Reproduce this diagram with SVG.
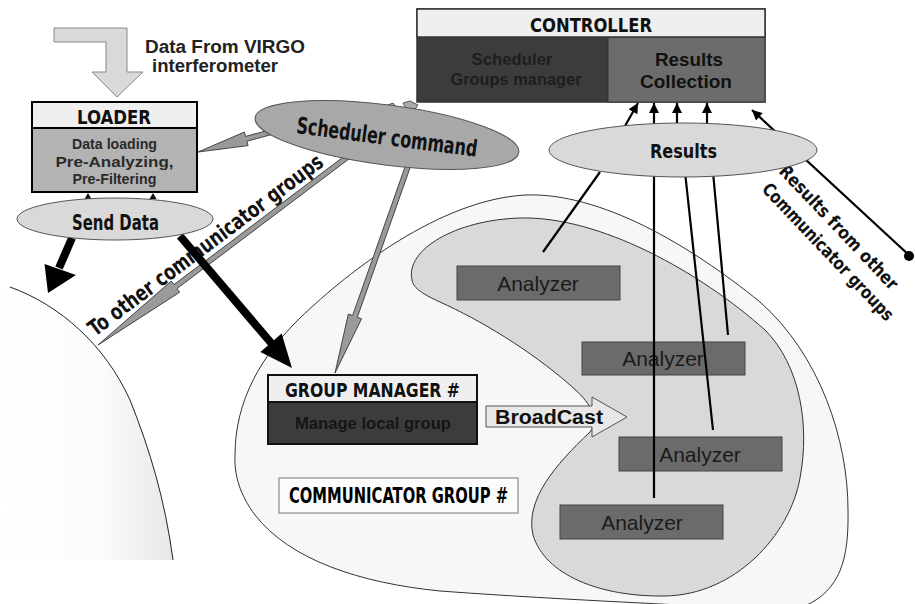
<svg xmlns="http://www.w3.org/2000/svg" width="915" height="604" viewBox="0 0 915 604">
<defs>
<style>
.b{font-family:"Liberation Sans",Arial,sans-serif;font-weight:bold}
.n{font-family:"Liberation Sans Narrow","DejaVu Sans Condensed","Liberation Sans",sans-serif;font-weight:bold}
.r{font-family:"Liberation Sans",Arial,sans-serif}
.az{fill:#6b6b6b;stroke:#444;stroke-width:1}
.azt{font-size:21px;fill:#1a1a1a;text-anchor:middle}
.ga{fill:#9a9a9a;stroke:#444;stroke-width:1}
.bl{stroke:#000;stroke-width:2.2;fill:none}
.el{fill:#d9d9d9;stroke:#555;stroke-width:1}
</style>
<marker id="ah" viewBox="0 0 10 10" refX="10" refY="5" markerWidth="11" markerHeight="10" markerUnits="userSpaceOnUse" orient="auto">
<path d="M0,0 L10,5 L0,10 z" fill="#000"/>
</marker>
<linearGradient id="lg" x1="0" y1="0" x2="1" y2="0">
<stop offset="0" stop-color="#fff"/>
<stop offset="0.6" stop-color="#fbfbfb"/>
<stop offset="1" stop-color="#e8e8e8"/>
</linearGradient>
</defs>
<rect width="915" height="604" fill="#fff"/>

<g id="other-group">
<path d="M0,284 L10,287 C60,305 105,345 130,400 C150,450 165,500 173,560 L0,560 Z" fill="url(#lg)" stroke="none"/>
<path d="M10,287 C60,305 105,345 130,400 C150,450 165,500 173,560" fill="none" stroke="#222" stroke-width="1"/>
</g>

<g id="communicator-group">
<path d="M235,455 C235,400 262,355 300,318 C350,270 440,200 525,195 C600,192 690,245 760,302 C820,355 848,440 848,510 C849,560 840,590 805,606 L700,606 C620,602 520,597 440,591 C360,583 290,560 255,515 C240,495 234,475 235,455 Z" fill="#f7f7f7" stroke="#333" stroke-width="1"/>
</g>

<g id="analyzer-group">
<path d="M412,280 C405,250 455,220 520,218 C600,216 700,272 765,330 C800,365 810,425 800,478 C790,535 735,595 665,596 C600,597 545,575 533,535 C525,500 555,465 590,432 C600,418 590,402 570,385 C530,350 480,320 440,302 C420,293 413,287 412,280 Z" fill="#d9d9d9" stroke="#333" stroke-width="1"/>
</g>

<g id="analyzer1"><rect class="az" x="457" y="266" width="163" height="34"/><text class="r azt" x="538" y="291">Analyzer</text></g>
<g id="analyzer2"><rect class="az" x="582" y="342" width="163" height="33"/><text class="r azt" x="663" y="366">Analyzer</text></g>
<g id="analyzer3"><rect class="az" x="619" y="437" width="163" height="34"/><text class="r azt" x="700" y="462">Analyzer</text></g>
<g id="analyzer4"><rect class="az" x="560" y="505" width="163" height="34"/><text class="r azt" x="642" y="530">Analyzer</text></g>

<g id="connectors">
<polygon points="54,28 127,28 127,72 143,72 117,97 92,72 106,72 106,42 54,42" fill="#d9d9d9" stroke="#888" stroke-width="1"/>
<polygon class="ga" points="274.34,128.59 245.59,136.43 244.41,132.09 198,152 248.09,145.59 246.91,141.25 275.66,133.41"/>
<text class="n" font-size="22" fill="#111" textLength="287" lengthAdjust="spacingAndGlyphs" transform="translate(95,337) rotate(-36.8)">To other communicator groups</text>
<polygon class="ga" points="348.5,153 173.94,284.61 171.24,281.02 98,345 179.66,292.2 176.96,288.61 351.51,157"/>
<polygon class="ga" points="405.64,165.17 352.6,315.58 348.36,314.08 335,373 361.56,318.74 357.32,317.24 410.36,166.83"/>
<polygon points="383,107 393,103 397,108" fill="#aaa" stroke="#555" stroke-width="1"/>
<polygon points="403,103 410,101 418,105 413,112 408,112" fill="#aaa" stroke="#555" stroke-width="1"/>
<polygon points="84.5,199 91.5,199 88,193" fill="#111"/>
<polygon points="149.5,199 156.5,199 153,193" fill="#111"/>
<line x1="72" y1="238" x2="59" y2="268" stroke="#000" stroke-width="8"/>
<polygon points="44.5,264 76,275 48,293" fill="#000"/>
<line x1="180" y1="236" x2="272" y2="344" stroke="#000" stroke-width="8"/>
<polygon points="260.4,352 281.6,333.6 292,368" fill="#000"/>
<line class="bl" x1="543" y1="252" x2="600" y2="172"/>
<line class="bl" x1="654" y1="498" x2="654" y2="172"/>
<line class="bl" x1="713" y1="430" x2="685" y2="172"/>
<line class="bl" x1="728" y1="335" x2="713" y2="172"/>
<line class="bl" x1="625" y1="126" x2="638" y2="103" marker-end="url(#ah)"/>
<line class="bl" x1="654" y1="125" x2="654" y2="103" marker-end="url(#ah)"/>
<line class="bl" x1="677" y1="125" x2="677" y2="103" marker-end="url(#ah)"/>
<line class="bl" x1="707" y1="125" x2="707" y2="103" marker-end="url(#ah)"/>
<line class="bl" x1="910" y1="256" x2="752" y2="110" marker-end="url(#ah)"/>
<circle cx="909" cy="256" r="5" fill="#000"/>
<text class="n" font-size="18" fill="#111" textLength="164" lengthAdjust="spacingAndGlyphs" transform="translate(778,172) rotate(46.5)">Results from other</text>
<text class="n" font-size="18" fill="#111" textLength="182" lengthAdjust="spacingAndGlyphs" transform="translate(761,190) rotate(46.5)">Communicator groups</text>
</g>

<g id="data-label">
<text class="b" font-size="18" fill="#222" x="145" y="53" textLength="160" lengthAdjust="spacingAndGlyphs">Data From VIRGO</text>
<text class="b" font-size="18" fill="#222" x="152" y="72" textLength="126" lengthAdjust="spacingAndGlyphs">interferometer</text>
</g>

<g id="loader">
<rect x="32" y="102" width="165" height="90" fill="#b3b3b3" stroke="#000" stroke-width="2"/>
<rect x="32" y="102" width="165" height="26" fill="#efefef" stroke="#000" stroke-width="2"/>
<text class="n" font-size="19" fill="#111" x="114" y="124" text-anchor="middle" textLength="74" lengthAdjust="spacingAndGlyphs">LOADER</text>
<text class="b" font-size="14" fill="#2a2a2a" x="114.5" y="149" text-anchor="middle" textLength="85" lengthAdjust="spacingAndGlyphs">Data loading</text>
<text class="b" font-size="14" fill="#2a2a2a" x="114.5" y="167" text-anchor="middle" textLength="118" lengthAdjust="spacingAndGlyphs">Pre-Analyzing,</text>
<text class="b" font-size="14" fill="#2a2a2a" x="114.5" y="184" text-anchor="middle" textLength="84" lengthAdjust="spacingAndGlyphs">Pre-Filtering</text>
</g>

<g id="send-data">
<ellipse class="el" cx="115" cy="219" rx="98" ry="21"/>
<text class="n" font-size="21" fill="#111" x="115.5" y="230" text-anchor="middle" textLength="87" lengthAdjust="spacingAndGlyphs">Send Data</text>
</g>

<g id="scheduler-command">
<ellipse cx="387" cy="135" rx="133" ry="30" transform="rotate(7.5 387 135)" fill="#a8a8a8" stroke="#555" stroke-width="1"/>
<text class="n" font-size="23" fill="#111" text-anchor="middle" textLength="182" lengthAdjust="spacingAndGlyphs" transform="translate(387,137) rotate(7.5)" x="0" y="8">Scheduler command</text>
</g>

<g id="controller">
<rect x="417" y="9" width="348" height="93" fill="#3c3c3c" stroke="#333" stroke-width="1.5"/>
<rect x="608" y="37" width="157" height="65" fill="#6c6c6c" stroke="#333" stroke-width="1"/>
<rect x="417" y="9" width="348" height="28" fill="#efefef" stroke="#333" stroke-width="1.5"/>
<text class="n" font-size="20" fill="#111" x="591" y="32" text-anchor="middle" textLength="122" lengthAdjust="spacingAndGlyphs">CONTROLLER</text>
<text class="b" font-size="16" fill="#1e1e1e" x="512" y="65" text-anchor="middle" textLength="81" lengthAdjust="spacingAndGlyphs">Scheduler</text>
<text class="b" font-size="16" fill="#1e1e1e" x="516" y="85" text-anchor="middle" textLength="131" lengthAdjust="spacingAndGlyphs">Groups manager</text>
<text class="b" font-size="19" fill="#111" x="689" y="66" text-anchor="middle" textLength="68" lengthAdjust="spacingAndGlyphs">Results</text>
<text class="b" font-size="19" fill="#111" x="686" y="88" text-anchor="middle" textLength="92" lengthAdjust="spacingAndGlyphs">Collection</text>
</g>

<g id="results">
<ellipse class="el" cx="683" cy="150" rx="134" ry="27"/>
<text class="n" font-size="20" fill="#111" x="683.5" y="158" text-anchor="middle" textLength="67" lengthAdjust="spacingAndGlyphs">Results</text>
</g>

<g id="group-manager">
<rect x="268" y="375" width="209" height="69" fill="#3c3c3c" stroke="#111" stroke-width="2"/>
<rect x="268" y="375" width="209" height="27" fill="#efefef" stroke="#111" stroke-width="2"/>
<text class="n" font-size="20" fill="#111" x="372.5" y="397" text-anchor="middle" textLength="175" lengthAdjust="spacingAndGlyphs">GROUP MANAGER #</text>
<text class="b" font-size="16.5" fill="#151515" x="373" y="429" text-anchor="middle" textLength="156" lengthAdjust="spacingAndGlyphs">Manage local group</text>
</g>

<g id="broadcast">
<polygon points="486,406 592,406 592,397 627,417 592,437 592,427 486,427" fill="#e8e8e8" stroke="#555" stroke-width="1"/>
<text class="b" font-size="20" fill="#111" x="495" y="424" textLength="108" lengthAdjust="spacingAndGlyphs">BroadCast</text>
</g>

<g id="communicator-label">
<rect x="279" y="478" width="239" height="35" fill="#fcfcfc" stroke="#777" stroke-width="1"/>
<text class="n" font-size="22" fill="#000" x="398.5" y="503" text-anchor="middle" textLength="219" lengthAdjust="spacingAndGlyphs">COMMUNICATOR GROUP #</text>
</g>
</svg>
